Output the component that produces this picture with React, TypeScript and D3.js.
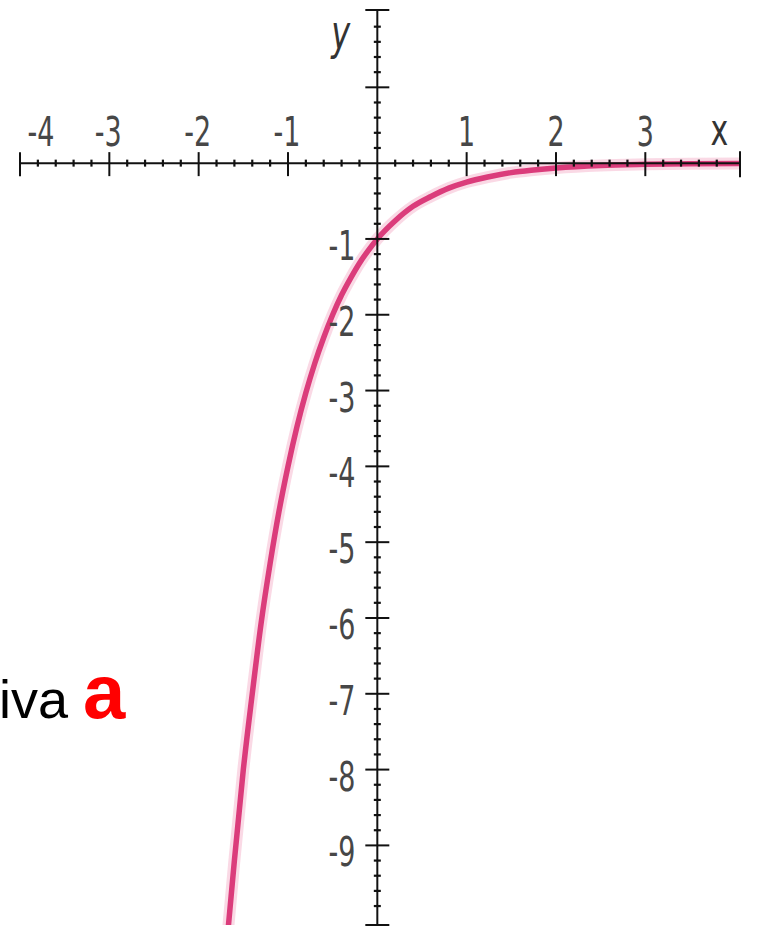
import React from "react";
import * as d3 from "d3";

// Axis tick values
const xTickLabels = [-4, -3, -2, -1, 1, 2, 3];
const xMajorTicks = [-4, -3, -2, -1, 1, 2, 3];
const yTickLabels = [-1, -2, -3, -4, -5, -6, -7, -8, -9];
const yMajorTicks = [1, -1, -2, -3, -4, -5, -6, -7, -8, -9];

// Points along the plotted curve
const curveX = [-1.67, -1.6, -1.5, -1.4, -1.3, -1.2, -1.1, -1.0, -0.9, -0.8, -0.7, -0.6, -0.5, -0.4, -0.3, -0.2, -0.1, 0, 0.2, 0.4, 0.6, 0.8, 1.0, 1.25, 1.5, 1.75, 2.0, 2.5, 3.0, 3.5, 4.06];
const curveY = [-10.1, -9.2, -8.0, -7.0, -6.06, -5.28, -4.59, -4.0, -3.48, -3.03, -2.64, -2.3, -2.0, -1.74, -1.52, -1.32, -1.15, -1.0, -0.76, -0.57, -0.44, -0.33, -0.25, -0.18, -0.125, -0.09, -0.063, -0.03, -0.016, -0.008, -0.004];

const W = 757;
const H = 930;

export default function App() {
  const x = d3.scaleLinear().domain([-4, 4.06]).range([20, 740]);
  const y = d3.scaleLinear().domain([2.02, -10.05]).range([10, 925]);
  const x0 = x(0);
  const y0 = y(0);

  const pts: [number, number][] = curveX.map((v, i) => [v, curveY[i]]);
  const line = d3
    .line<[number, number]>()
    .x((d) => x(d[0]))
    .y((d) => y(d[1]))
    .curve(d3.curveMonotoneX);
  const path = line(pts) || "";

  const xMinor = d3.range(-4, 4.01, 0.2).filter((v) => Math.abs(v - Math.round(v)) > 1e-6);
  const yMinor = d3.range(-10, 2.01, 0.2).filter((v) => Math.abs(v - Math.round(v)) > 1e-6);

  const labelFont = "'DejaVu Sans', sans-serif";
  const labelColor = "#474747";

  return (
    <svg
      width={W}
      height={H}
      style={{ position: "absolute", left: 0, top: 0, background: "#fff" }}
    >
      <defs>
        <clipPath id="plot">
          <rect x={0} y={10} width={W} height={915} />
        </clipPath>
      </defs>

      {/* curve */}
      <g clipPath="url(#plot)">
        <path d={path} fill="none" stroke="#f7bfd4" strokeWidth={12} strokeOpacity={0.6} />
        <path d={path} fill="none" stroke="#db3c7b" strokeWidth={5.5} strokeLinejoin="round" />
      </g>

      {/* x axis */}
      <line x1={x(-4)} x2={x(4.06)} y1={y0} y2={y0} stroke="#111" strokeWidth={2} />
      {xMinor.map((v, i) => (
        <line key={"xm" + i} x1={x(v)} x2={x(v)} y1={y0 - 3.5} y2={y0 + 3.5} stroke="#111" strokeWidth={2.2} />
      ))}
      {xMajorTicks.map((v) => (
        <line key={"xM" + v} x1={x(v)} x2={x(v)} y1={y0 - 11} y2={y0 + 13} stroke="#111" strokeWidth={2} />
      ))}
      <line x1={x(4.06)} x2={x(4.06)} y1={y0 - 12} y2={y0 + 14} stroke="#111" strokeWidth={2} />

      {/* y axis */}
      <line x1={x0} x2={x0} y1={y(2.02)} y2={y(-10.05)} stroke="#111" strokeWidth={2} />
      {yMinor.map((v, i) => (
        <line key={"ym" + i} x1={x0 - 3.5} x2={x0 + 3.5} y1={y(v)} y2={y(v)} stroke="#111" strokeWidth={2.2} />
      ))}
      {yMajorTicks.map((v) => (
        <line key={"yM" + v} x1={x0 - 12} x2={x0 + 12} y1={y(v)} y2={y(v)} stroke="#111" strokeWidth={2} />
      ))}
      <line x1={x0 - 12} x2={x0 + 12} y1={y(2.02)} y2={y(2.02)} stroke="#111" strokeWidth={2} />
      <line x1={x0 - 12} x2={x0 + 12} y1={y(-10.05)} y2={y(-10.05)} stroke="#111" strokeWidth={2} />

      {/* x tick labels */}
      {xTickLabels.map((v) => {
        const px = Math.max(x(v) + (v < 0 ? -1 : 0), 41);
        return (
          <text
            key={"xl" + v}
            transform={`translate(${px},${y0 - 17}) scale(1,1.5)`}
            textAnchor="middle"
            fontFamily={labelFont}
            fontSize={27}
            fill={labelColor}
          >
            {v < 0 ? "-" + Math.abs(v) : String(v)}
          </text>
        );
      })}

      {/* y tick labels */}
      {yTickLabels.map((v) => (
        <text
          key={"yl" + v}
          transform={`translate(${x0 - 22},${y(v) + 21}) scale(1,1.5)`}
          textAnchor="end"
          fontFamily={labelFont}
          fontSize={27}
          fill={labelColor}
        >
          {"-" + Math.abs(v)}
        </text>
      ))}

      {/* axis names */}
      <text
        transform={`translate(${x0 - 46},${y(1.5)}) scale(1,1.5)`}
        fontFamily={labelFont}
        fontStyle="italic"
        fontSize={32}
        fill="#333"
      >
        y
      </text>
      <text
        transform={`translate(${x(3.73)},${y0 - 18}) scale(1,1.5)`}
        fontFamily={labelFont}
        fontSize={30}
        fill="#333"
      >
        x
      </text>

      {/* caption */}
      <text x={68} y={718} textAnchor="end" fontFamily="'Liberation Sans', Arial, sans-serif" fontSize={54} fill="#000">
        Alternativa
      </text>
      <text x={83} y={718} fontFamily="'Liberation Sans', Arial, sans-serif" fontWeight="bold" fontSize={76} fill="#ff0000">
        a
      </text>
    </svg>
  );
}
